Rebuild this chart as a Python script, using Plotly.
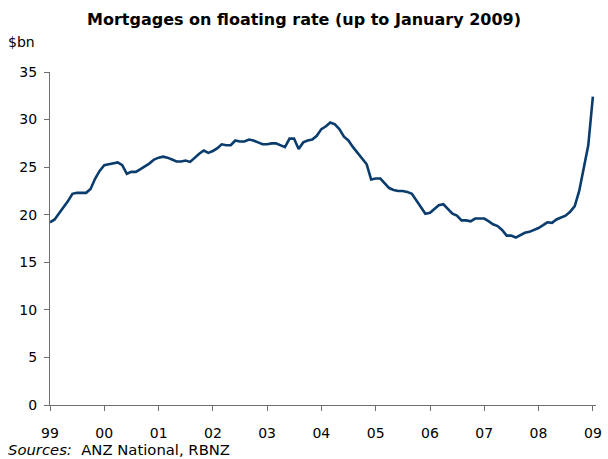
import pandas as pd
import plotly.graph_objects as go

# Monthly floating-rate mortgages, $bn, Jan 1999 - Jan 2009
values = [
    19.2, 19.5, 20.1, 20.7, 21.4, 22.2, 22.3, 22.3, 22.3, 22.7, 23.8, 24.6,   # 1999
    25.2, 25.3, 25.4, 25.5, 25.2, 24.3, 24.5, 24.5, 24.8, 25.1, 25.4, 25.8,   # 2000
    26.0, 26.1, 26.0, 25.8, 25.6, 25.6, 25.7, 25.55, 26.0, 26.4, 26.75, 26.5, # 2001
    26.7, 27.0, 27.4, 27.3, 27.3, 27.8, 27.7, 27.7, 27.9, 27.8, 27.6, 27.4,   # 2002
    27.4, 27.5, 27.5, 27.3, 27.1, 28.0, 28.0, 26.9, 27.6, 27.8, 27.9, 28.3,   # 2003
    29.0, 29.3, 29.7, 29.5, 29.0, 28.2, 27.8, 27.1, 26.5, 26.0, 25.3, 23.7,   # 2004
    23.8, 23.8, 23.3, 22.8, 22.6, 22.5, 22.5, 22.4, 22.2, 21.5, 20.9, 20.1,   # 2005
    20.2, 20.6, 21.0, 21.1, 20.6, 20.1, 19.9, 19.4, 19.4, 19.3, 19.6, 19.6,   # 2006
    19.6, 19.3, 19.0, 18.8, 18.4, 17.8, 17.8, 17.6, 17.9, 18.1, 18.2, 18.4,   # 2007
    18.6, 18.9, 19.2, 19.15, 19.5, 19.7, 19.9, 20.3, 20.9, 22.5, 24.8, 27.3,  # 2008
    32.4,                                                                     # Jan 2009
]
dates = pd.date_range("1999-01-01", periods=len(values), freq="MS")

tick_dates = pd.date_range("1999-01-01", "2009-01-01", freq="YS")
tick_labels = ["99", "00", "01", "02", "03", "04", "05", "06", "07", "08", "09"]
y_ticks = [0, 5, 10, 15, 20, 25, 30, 35]

fig = go.Figure()
fig.add_trace(go.Scatter(
    x=dates, y=values, mode="lines",
    line=dict(color="#0A3C6E", width=2.6),
    hoverinfo="skip", showlegend=False,
))

axis_col = "#6E6E6E"
fig.update_layout(
    width=608, height=459,
    margin=dict(l=50, r=6, t=72, b=54),
    paper_bgcolor="white", plot_bgcolor="white",
    font=dict(family="DejaVu Sans", size=14, color="black"),
    title=dict(
        text="<b>Mortgages on floating rate (up to January 2009)</b>",
        x=0.5, xanchor="center", y=0.958, yanchor="middle",
        font=dict(family="DejaVu Sans", size=16, color="black"),
    ),
    xaxis=dict(
        type="date",
        range=["1999-01-01", "2009-01-22"],
        tickvals=tick_dates, ticktext=tick_labels,
        ticks="outside", ticklen=5, tickcolor=axis_col, tickwidth=1,
        showline=True, linecolor=axis_col, linewidth=1,
        showgrid=False, zeroline=False,
        ticklabelstandoff=10,
        tickfont=dict(size=14),
    ),
    yaxis=dict(
        range=[0, 35], tickvals=y_ticks,
        ticks="outside", ticklen=5, tickcolor=axis_col, tickwidth=1,
        showline=True, linecolor=axis_col, linewidth=1,
        showgrid=False, zeroline=False,
        ticklabelstandoff=4,
        tickfont=dict(size=14),
    ),
    annotations=[
        dict(text="$bn", xref="paper", yref="paper", x=-0.081, y=1.09,
             xanchor="left", yanchor="middle", showarrow=False,
             font=dict(size=14)),
        dict(text="<i>Sources:</i>  ANZ National, RBNZ", xref="paper", yref="paper",
             x=-0.081, y=-0.135, xanchor="left", yanchor="middle", showarrow=False,
             font=dict(size=14.8)),
    ],
)

fig.write_html("out.html")
